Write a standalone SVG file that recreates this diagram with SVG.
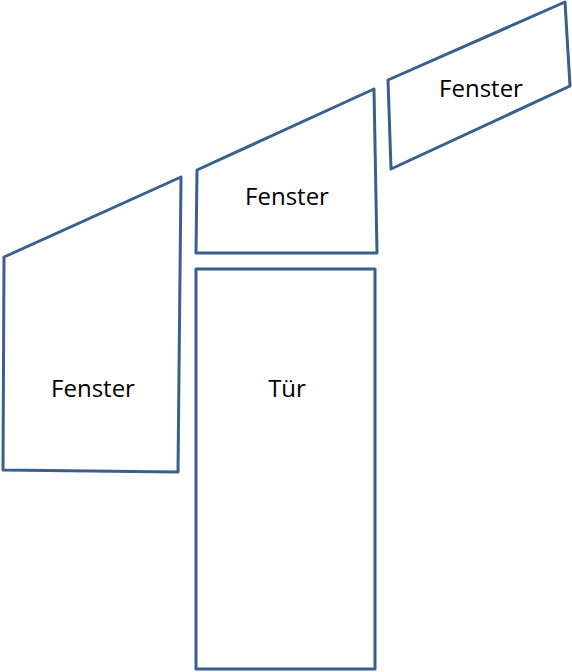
<svg xmlns="http://www.w3.org/2000/svg" width="572" height="672" viewBox="0 0 572 672">
<style>
.s{fill:#fff;stroke:#3a5f8e;stroke-width:3;stroke-linejoin:round}
.t{font-family:"Open Sans","Liberation Sans",sans-serif;font-size:24px;fill:#000;text-anchor:middle}
</style>
<rect width="572" height="672" fill="#fff"/>
<g id="fenster1">
<polygon class="s" points="4,257 181,177 178,472 3,470"/>
<text class="t" x="93" y="397">Fenster</text>
</g>
<g id="fenster2">
<polygon class="s" points="197,170 374,89 377,253 196,253"/>
<text class="t" x="287" y="205">Fenster</text>
</g>
<g id="fenster3">
<polygon class="s" points="388,80 565,2 570,86 391,169"/>
<text class="t" x="481" y="97">Fenster</text>
</g>
<g id="tuer">
<rect class="s" x="196" y="269" width="179" height="400"/>
<text class="t" x="287" y="397">Tür</text>
</g>
<g id="connectors"></g>
</svg>
